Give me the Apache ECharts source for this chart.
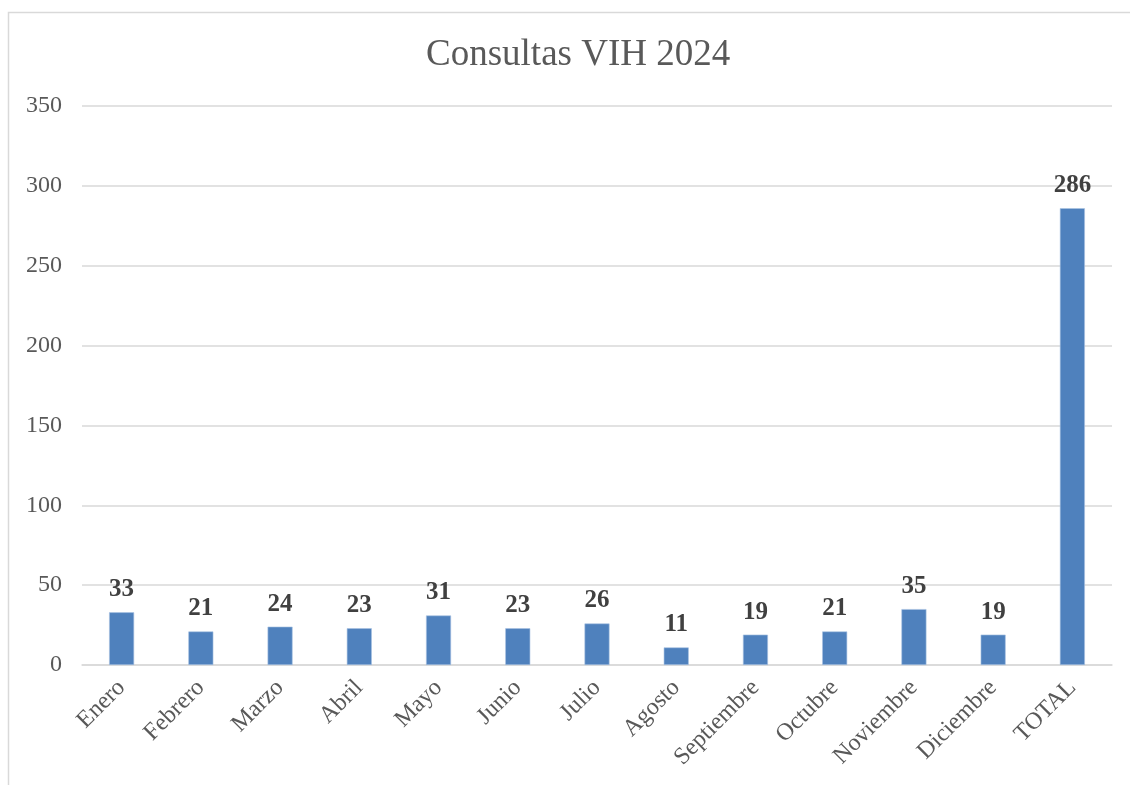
<!DOCTYPE html>
<html><head><meta charset="utf-8">
<script src="https://cdn.jsdelivr.net/npm/echarts@6/dist/echarts.min.js"></script>
<style>html,body{margin:0;padding:0;background:#fff}#c{width:1130px;height:785px}</style>
</head><body><div id="c"></div>
<script>
const categories = ['Enero','Febrero','Marzo','Abril','Mayo','Junio','Julio','Agosto','Septiembre','Octubre','Noviembre','Diciembre','TOTAL'];
const values = [33,21,24,23,31,23,26,11,19,21,35,19,286];
const chart = echarts.init(document.getElementById('c'));
const serif = '"Liberation Serif","DejaVu Serif",serif';
chart.setOption({
  animation:false,
  title:{text:'Consultas VIH 2024',left:421,top:32,textStyle:{fontFamily:serif,fontSize:37,fontWeight:'normal',color:'#595959'}},
  graphic:[{type:'rect',shape:{x:8.5,y:12.5,width:1200,height:800},style:{fill:'none',stroke:'#d9d9d9',lineWidth:1.5},silent:true}],
  grid:{left:82,right:18,top:106,bottom:120},
  xAxis:{type:'category',data:categories,axisTick:{show:false},
    axisLine:{lineStyle:{color:'#d9d9d9',width:1.5}},
    axisLabel:{rotate:45,interval:0,fontFamily:serif,fontSize:24,color:'#595959',margin:19}},
  yAxis:{type:'value',min:0,max:350,interval:50,
    axisLabel:{fontFamily:serif,fontSize:24,color:'#595959',margin:20},
    splitLine:{lineStyle:{color:'#d9d9d9',width:1.5}}},
  series:[{type:'bar',data:values,barWidth:25,
    itemStyle:{color:'#4f81bd',borderColor:'#a9c2e3',borderWidth:0.6},
    label:{show:true,position:'top',distance:10,fontFamily:serif,fontSize:25,fontWeight:'bold',color:'#404040'}}]
});
</script></body></html>
